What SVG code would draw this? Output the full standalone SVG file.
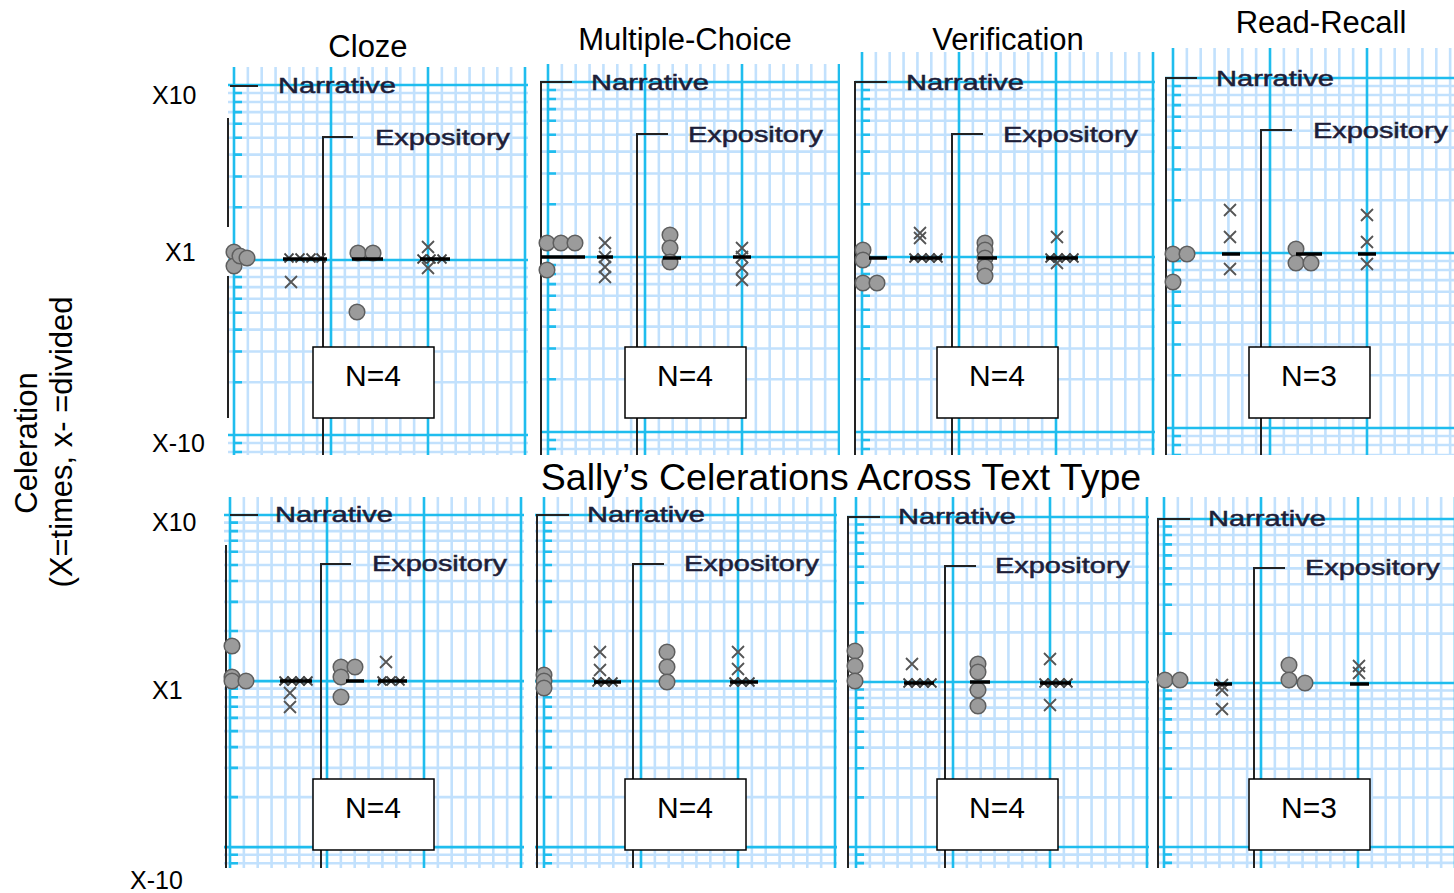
<svg xmlns="http://www.w3.org/2000/svg" xmlns:xlink="http://www.w3.org/1999/xlink" width="1454" height="893" viewBox="0 0 1454 893">
<style>
text{font-family:"Liberation Sans",Arial,sans-serif;fill:#000}
.title{font-size:31px;text-anchor:middle}
.ax{font-size:25px}
.lab{font-size:22px;fill:#1e1e38;stroke:#1e1e38;stroke-width:0.5}
.nt{font-size:30px;text-anchor:middle}
.blk{stroke:#222;stroke-width:2;fill:none}
.nbox{fill:#fff;stroke:#000;stroke-width:1.5}
.med{stroke:#000;stroke-width:3.5}
.minor{stroke:#c2e1fd;stroke-width:2.6;fill:none}
.major{stroke:#1fbdee;stroke-width:2.6;fill:none}
</style>
<defs>
<g id="grid">
<path class="minor" vector-effect="non-scaling-stroke" d="M13.86,-40V390M27.71,-40V390M41.57,-40V390M55.43,-40V390M69.29,-40V390M83.14,-40V390M110.86,-40V390M124.71,-40V390M138.57,-40V390M152.43,-40V390M166.29,-40V390M180.14,-40V390M207.86,-40V390M221.71,-40V390M235.57,-40V390M249.43,-40V390M263.29,-40V390M277.14,-40V390"/>
<path class="minor" vector-effect="non-scaling-stroke" d="M-10,8H300M-10,17H300M-10,27.1H300M-10,38.8H300M-10,52.7H300M-10,69.6H300M-10,91.5H300M-10,122.3H300M-10,183H300M-10,192H300M-10,202.1H300M-10,213.8H300M-10,227.7H300M-10,244.6H300M-10,266.5H300M-10,297.3H300M-10,358H300M-10,367H300M-10,377.1H300M-10,388.8H300"/>
<path class="major" vector-effect="non-scaling-stroke" d="M0,-40V390M97,-40V390M194,-40V390M291,-40V390M-10,0H300M-10,175H300M-10,350H300"/>
<path class="major" vector-effect="non-scaling-stroke" d="M0,8h8M0,17h8M0,27.1h8M0,38.8h8M0,52.7h8M0,69.6h8M0,91.5h8M0,122.3h8M0,183h8M0,192h8M0,202.1h8M0,213.8h8M0,227.7h8M0,244.6h8M0,266.5h8M0,297.3h8M0,358h8M0,367h8M0,377.1h8"/>
</g>
<circle id="c" r="7.8" fill="#9b9b9b" stroke="#5e5e5e" stroke-width="1.5"/>
<path id="x" d="M-6,-6L6,6M-6,6L6,-6" stroke="#555" stroke-width="1.8" fill="none"/>
<path id="xs" d="M-4.5,-4.5L4.5,4.5M-4.5,4.5L4.5,-4.5" stroke="#444" stroke-width="1.8" fill="none"/>
<clipPath id="k1"><rect x="228" y="67" width="300" height="388"/></clipPath>
<clipPath id="k2"><rect x="540" y="64" width="300" height="391"/></clipPath>
<clipPath id="k3"><rect x="855" y="52" width="300" height="403"/></clipPath>
<clipPath id="k4"><rect x="1165" y="48" width="289" height="407"/></clipPath>
<clipPath id="k5"><rect x="224" y="497" width="300" height="371"/></clipPath>
<clipPath id="k6"><rect x="535" y="497" width="302" height="371"/></clipPath>
<clipPath id="k7"><rect x="847" y="497" width="302" height="371"/></clipPath>
<clipPath id="k8"><rect x="1157" y="497" width="297" height="371"/></clipPath>
</defs>
<rect width="1454" height="893" fill="#fff"/>

<g id="titles">
<text class="title" x="368" y="57">Cloze</text>
<text class="title" x="685" y="50">Multiple-Choice</text>
<text class="title" x="1008" y="50">Verification</text>
<text class="title" x="1321" y="33">Read-Recall</text>
<text x="841" y="490" style="font-size:37.5px;text-anchor:middle">Sally’s Celerations Across Text Type</text>
</g>

<g id="y-axis">
<text transform="translate(37,443) rotate(-90)" style="font-size:31px;text-anchor:middle">Celeration</text>
<text transform="translate(72,442) rotate(-90)" style="font-size:31px;text-anchor:middle">(X=times, x- =divided</text>
<text class="ax" x="152" y="104">X10</text>
<text class="ax" x="165" y="261">X1</text>
<text class="ax" x="152" y="452">X-10</text>
<text class="ax" x="152" y="531">X10</text>
<text class="ax" x="152" y="699">X1</text>
<text class="ax" x="130" y="889">X-10</text>
</g>

<!-- TOP ROW -->
<g id="panel-top-cloze">
<g clip-path="url(#k1)"><use xlink:href="#grid" transform="translate(234,85)"/></g>
<path class="blk" d="M228,118V227M228,276V418M230,86H258M323,455V137H353"/>
<text class="lab" x="278" y="93" textLength="118" lengthAdjust="spacingAndGlyphs">Narrative</text>
<text class="lab" x="375" y="145" textLength="135" lengthAdjust="spacingAndGlyphs">Expository</text>
<use xlink:href="#c" x="234" y="252"/><use xlink:href="#c" x="234" y="266"/><use xlink:href="#c" x="240" y="256"/><use xlink:href="#c" x="247" y="258"/>
<use xlink:href="#xs" x="289" y="258"/><use xlink:href="#xs" x="300" y="258"/><use xlink:href="#xs" x="311" y="258"/><use xlink:href="#xs" x="321" y="258"/>
<line class="med" x1="283" y1="259" x2="327" y2="259"/>
<use xlink:href="#x" x="291" y="282"/>
<use xlink:href="#c" x="358" y="253"/><use xlink:href="#c" x="373" y="253"/>
<line class="med" x1="352" y1="259" x2="383" y2="259"/>
<use xlink:href="#c" x="357" y="312"/>
<use xlink:href="#x" x="428" y="247"/><use xlink:href="#x" x="428" y="268"/>
<use xlink:href="#xs" x="422" y="259"/><use xlink:href="#xs" x="431" y="259"/><use xlink:href="#xs" x="442" y="259"/>
<line class="med" x1="420" y1="259" x2="450" y2="259"/>
<rect class="nbox" x="313" y="347" width="121" height="71"/>
<text class="nt" x="373" y="386">N=4</text>
</g>

<g id="panel-top-mc">
<g clip-path="url(#k2)"><use xlink:href="#grid" transform="translate(548,82)"/></g>
<path class="blk" d="M541,455V82H572M637,455V134H668"/>
<text class="lab" x="591" y="90" textLength="118" lengthAdjust="spacingAndGlyphs">Narrative</text>
<text class="lab" x="688" y="142" textLength="135" lengthAdjust="spacingAndGlyphs">Expository</text>
<use xlink:href="#c" x="547" y="243"/><use xlink:href="#c" x="561" y="243"/><use xlink:href="#c" x="575" y="243"/><use xlink:href="#c" x="547" y="270"/>
<line class="med" x1="541" y1="257" x2="585" y2="257"/>
<use xlink:href="#x" x="605" y="243"/><use xlink:href="#x" x="605" y="257"/><use xlink:href="#x" x="605" y="267"/><use xlink:href="#x" x="605" y="277"/>
<line class="med" x1="597" y1="257" x2="613" y2="257"/>
<use xlink:href="#c" x="670" y="235"/><use xlink:href="#c" x="670" y="248"/><use xlink:href="#c" x="670" y="262"/>
<line class="med" x1="663" y1="258" x2="681" y2="258"/>
<use xlink:href="#x" x="742" y="248"/><use xlink:href="#x" x="742" y="257"/><use xlink:href="#x" x="742" y="268"/><use xlink:href="#x" x="742" y="280"/>
<line class="med" x1="733" y1="257" x2="751" y2="257"/>
<rect class="nbox" x="625" y="347" width="121" height="71"/>
<text class="nt" x="685" y="386">N=4</text>
</g>

<g id="panel-top-verif">
<g clip-path="url(#k3)"><use xlink:href="#grid" transform="translate(862,82)"/></g>
<path class="blk" d="M855,455V82H887M952,455V134H983"/>
<text class="lab" x="906" y="90" textLength="118" lengthAdjust="spacingAndGlyphs">Narrative</text>
<text class="lab" x="1003" y="142" textLength="135" lengthAdjust="spacingAndGlyphs">Expository</text>
<use xlink:href="#c" x="863" y="250"/><use xlink:href="#c" x="863" y="260"/><use xlink:href="#c" x="863" y="283"/><use xlink:href="#c" x="877" y="283"/>
<line class="med" x1="869" y1="258" x2="887" y2="258"/>
<use xlink:href="#x" x="920" y="233"/><use xlink:href="#x" x="920" y="238"/>
<use xlink:href="#xs" x="914" y="258"/><use xlink:href="#xs" x="922" y="258"/><use xlink:href="#xs" x="930" y="258"/><use xlink:href="#xs" x="938" y="258"/>
<line class="med" x1="910" y1="258" x2="942" y2="258"/>
<use xlink:href="#c" x="985" y="243"/><use xlink:href="#c" x="985" y="250"/><use xlink:href="#c" x="985" y="258"/><use xlink:href="#c" x="985" y="267"/><use xlink:href="#c" x="985" y="276"/>
<line class="med" x1="978" y1="258" x2="997" y2="258"/>
<use xlink:href="#x" x="1057" y="237"/><use xlink:href="#x" x="1057" y="263"/>
<use xlink:href="#xs" x="1050" y="258"/><use xlink:href="#xs" x="1058" y="258"/><use xlink:href="#xs" x="1066" y="258"/><use xlink:href="#xs" x="1074" y="258"/>
<line class="med" x1="1046" y1="258" x2="1078" y2="258"/>
<rect class="nbox" x="937" y="347" width="121" height="71"/>
<text class="nt" x="997" y="386">N=4</text>
</g>

<g id="panel-top-rr">
<g clip-path="url(#k4)"><use xlink:href="#grid" transform="translate(1173,78)"/></g>
<path class="blk" d="M1166,455V78H1197M1261,455V130H1292"/>
<text class="lab" x="1216" y="86" textLength="118" lengthAdjust="spacingAndGlyphs">Narrative</text>
<text class="lab" x="1313" y="138" textLength="135" lengthAdjust="spacingAndGlyphs">Expository</text>
<use xlink:href="#c" x="1173" y="254"/><use xlink:href="#c" x="1187" y="254"/><use xlink:href="#c" x="1173" y="282"/>
<use xlink:href="#x" x="1230" y="210"/><use xlink:href="#x" x="1230" y="237"/><use xlink:href="#x" x="1230" y="269"/>
<line class="med" x1="1222" y1="254" x2="1240" y2="254"/>
<use xlink:href="#c" x="1296" y="249"/><use xlink:href="#c" x="1296" y="263"/><use xlink:href="#c" x="1311" y="263"/>
<line class="med" x1="1296" y1="254" x2="1322" y2="254"/>
<use xlink:href="#x" x="1367" y="215"/><use xlink:href="#x" x="1367" y="242"/><use xlink:href="#x" x="1367" y="264"/>
<line class="med" x1="1358" y1="254" x2="1376" y2="254"/>
<rect class="nbox" x="1249" y="347" width="121" height="71"/>
<text class="nt" x="1309" y="386">N=3</text>
</g>

<!-- BOTTOM ROW -->
<g id="panel-bottom-cloze">
<g clip-path="url(#k5)"><use xlink:href="#grid" transform="translate(230,515) scale(1,0.949)"/></g>
<path class="blk" d="M226,545V868M230,515H258M321,868V564H351"/>
<text class="lab" x="275" y="522" textLength="118" lengthAdjust="spacingAndGlyphs">Narrative</text>
<text class="lab" x="372" y="571" textLength="135" lengthAdjust="spacingAndGlyphs">Expository</text>
<use xlink:href="#c" x="232" y="646"/><use xlink:href="#c" x="232" y="677"/><use xlink:href="#c" x="232" y="681"/><use xlink:href="#c" x="246" y="681"/>
<use xlink:href="#xs" x="284" y="681"/><use xlink:href="#xs" x="292" y="681"/><use xlink:href="#xs" x="300" y="681"/><use xlink:href="#xs" x="308" y="681"/>
<line class="med" x1="280" y1="681" x2="312" y2="681"/>
<use xlink:href="#x" x="290" y="693"/><use xlink:href="#x" x="290" y="707"/>
<use xlink:href="#c" x="341" y="667"/><use xlink:href="#c" x="355" y="667"/><use xlink:href="#c" x="341" y="677"/><use xlink:href="#c" x="341" y="697"/>
<line class="med" x1="346" y1="681" x2="364" y2="681"/>
<use xlink:href="#x" x="386" y="662"/>
<use xlink:href="#xs" x="382" y="681"/><use xlink:href="#xs" x="391" y="681"/><use xlink:href="#xs" x="400" y="681"/>
<line class="med" x1="378" y1="681" x2="407" y2="681"/>
<rect class="nbox" x="313" y="779" width="121" height="71"/>
<text class="nt" x="373" y="818">N=4</text>
</g>

<g id="panel-bottom-mc">
<g clip-path="url(#k6)"><use xlink:href="#grid" transform="translate(544,515) scale(1,0.949)"/></g>
<path class="blk" d="M537,868V515H569M633,868V564H664"/>
<text class="lab" x="587" y="522" textLength="118" lengthAdjust="spacingAndGlyphs">Narrative</text>
<text class="lab" x="684" y="571" textLength="135" lengthAdjust="spacingAndGlyphs">Expository</text>
<use xlink:href="#c" x="544" y="675"/><use xlink:href="#c" x="544" y="681"/><use xlink:href="#c" x="544" y="688"/>
<use xlink:href="#x" x="600" y="652"/><use xlink:href="#x" x="600" y="670"/>
<use xlink:href="#xs" x="597" y="682"/><use xlink:href="#xs" x="605" y="682"/><use xlink:href="#xs" x="613" y="682"/>
<line class="med" x1="594" y1="682" x2="621" y2="682"/>
<use xlink:href="#c" x="667" y="652"/><use xlink:href="#c" x="667" y="667"/><use xlink:href="#c" x="667" y="682"/>
<use xlink:href="#x" x="738" y="652"/><use xlink:href="#x" x="738" y="669"/>
<use xlink:href="#xs" x="734" y="682"/><use xlink:href="#xs" x="742" y="682"/><use xlink:href="#xs" x="750" y="682"/>
<line class="med" x1="730" y1="682" x2="758" y2="682"/>
<rect class="nbox" x="625" y="779" width="121" height="71"/>
<text class="nt" x="685" y="818">N=4</text>
</g>

<g id="panel-bottom-verif">
<g clip-path="url(#k7)"><use xlink:href="#grid" transform="translate(856,517) scale(1,0.943)"/></g>
<path class="blk" d="M848,868V517H880M945,868V566H976"/>
<text class="lab" x="898" y="524" textLength="118" lengthAdjust="spacingAndGlyphs">Narrative</text>
<text class="lab" x="995" y="573" textLength="135" lengthAdjust="spacingAndGlyphs">Expository</text>
<use xlink:href="#c" x="855" y="651"/><use xlink:href="#c" x="855" y="666"/><use xlink:href="#c" x="855" y="681"/>
<use xlink:href="#x" x="912" y="664"/>
<use xlink:href="#xs" x="908" y="683"/><use xlink:href="#xs" x="916" y="683"/><use xlink:href="#xs" x="924" y="683"/><use xlink:href="#xs" x="932" y="683"/>
<line class="med" x1="904" y1="683" x2="934" y2="683"/>
<use xlink:href="#c" x="978" y="664"/><use xlink:href="#c" x="978" y="672"/><use xlink:href="#c" x="978" y="690"/><use xlink:href="#c" x="978" y="706"/>
<line class="med" x1="970" y1="682" x2="990" y2="682"/>
<use xlink:href="#x" x="1050" y="659"/><use xlink:href="#x" x="1050" y="705"/>
<use xlink:href="#xs" x="1044" y="683"/><use xlink:href="#xs" x="1052" y="683"/><use xlink:href="#xs" x="1060" y="683"/><use xlink:href="#xs" x="1068" y="683"/>
<line class="med" x1="1040" y1="683" x2="1071" y2="683"/>
<rect class="nbox" x="937" y="779" width="121" height="71"/>
<text class="nt" x="997" y="818">N=4</text>
</g>

<g id="panel-bottom-rr">
<g clip-path="url(#k8)"><use xlink:href="#grid" transform="translate(1164,519) scale(1,0.937)"/></g>
<path class="blk" d="M1158,868V519H1190M1254,868V568H1285"/>
<text class="lab" x="1208" y="526" textLength="118" lengthAdjust="spacingAndGlyphs">Narrative</text>
<text class="lab" x="1305" y="575" textLength="135" lengthAdjust="spacingAndGlyphs">Expository</text>
<use xlink:href="#c" x="1165" y="680"/><use xlink:href="#c" x="1180" y="680"/>
<use xlink:href="#x" x="1222" y="685"/><use xlink:href="#x" x="1222" y="690"/><use xlink:href="#x" x="1222" y="709"/>
<line class="med" x1="1214" y1="684" x2="1232" y2="684"/>
<use xlink:href="#c" x="1289" y="665"/><use xlink:href="#c" x="1289" y="680"/><use xlink:href="#c" x="1305" y="683"/>
<use xlink:href="#x" x="1359" y="666"/><use xlink:href="#x" x="1359" y="673"/>
<line class="med" x1="1350" y1="684" x2="1369" y2="684"/>
<rect class="nbox" x="1249" y="779" width="121" height="71"/>
<text class="nt" x="1309" y="818">N=3</text>
</g>
</svg>
